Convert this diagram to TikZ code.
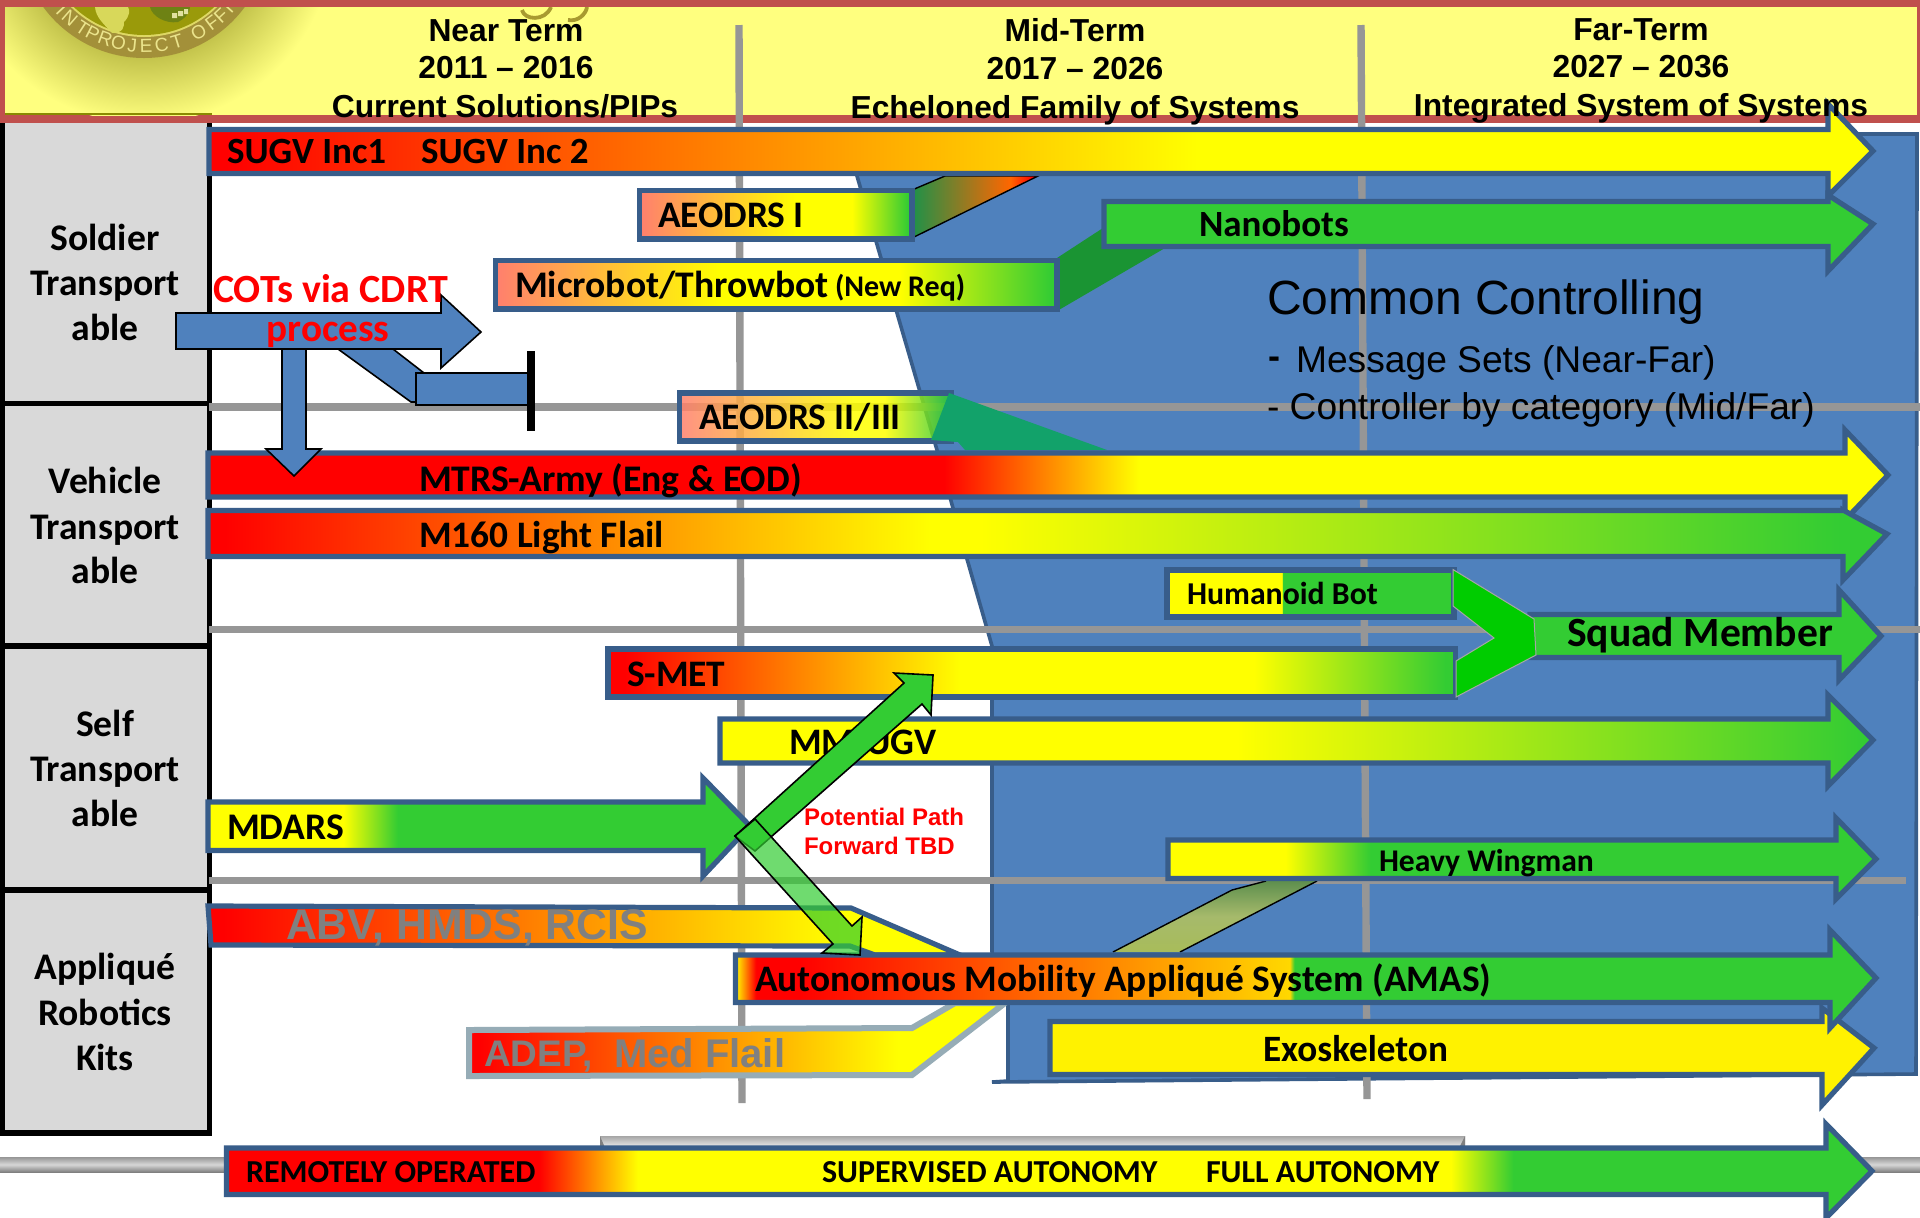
\documentclass[tikz,border=0pt]{standalone}
\usepackage{fontspec}
\setmainfont{Carlito}
\newfontfamily\arf{Liberation Sans}
\definecolor{barline}{HTML}{385D8A}
\definecolor{bgblue}{HTML}{4F81BD}
\definecolor{bargreen}{HTML}{33CC33}
\definecolor{salmon}{HTML}{FF7F6E}
\definecolor{gridg}{HTML}{969696}
\definecolor{panelg}{HTML}{D9D9D9}
\definecolor{hdrred}{HTML}{C0504D}
\definecolor{hdryel}{HTML}{FFFF7F}
\definecolor{glowc}{HTML}{C4C44C}
\definecolor{orangeS}{HTML}{FF9000}
\definecolor{amsy}{HTML}{FFD800}
\definecolor{extgreen}{HTML}{1E9148}
\definecolor{extorange}{HTML}{FF6600}
\definecolor{silverd}{HTML}{A6A6A6}
\pgfdeclarehorizontalshading{sSUGV}{100bp}{color(0bp)=(red);color(25.5bp)=(red);color(54.7bp)=(yellow);color(100bp)=(yellow)}
\pgfdeclarehorizontalshading{sAEOa}{100bp}{color(0bp)=(salmon);color(25bp)=(salmon);color(53.8bp)=(yellow);color(64bp)=(yellow);color(74.3bp)=(bargreen);color(100bp)=(bargreen)}
\pgfdeclarehorizontalshading{sMicro}{100bp}{color(0bp)=(salmon);color(25bp)=(salmon);color(45.1bp)=(yellow);color(61bp)=(yellow);color(74.5bp)=(bargreen);color(100bp)=(bargreen)}
\pgfdeclarehorizontalshading{sAEOb}{100bp}{color(0bp)=(salmon);color(25bp)=(salmon);color(57bp)=(yellow);color(62.8bp)=(yellow);color(74bp)=(bargreen);color(100bp)=(bargreen)}
\pgfdeclarehorizontalshading{sMTRS}{100bp}{color(0bp)=(red);color(46.9bp)=(red);color(52.7bp)=(yellow);color(100bp)=(yellow)}
\pgfdeclarehorizontalshading{sM160}{100bp}{color(0bp)=(red);color(25.5bp)=(red);color(46.5bp)=(yellow);color(48bp)=(yellow);color(73.6bp)=(bargreen);color(100bp)=(bargreen)}
\pgfdeclarehorizontalshading{sSMET}{100bp}{color(0bp)=(red);color(26bp)=(red);color(45.8bp)=(yellow);color(63.1bp)=(yellow);color(74.4bp)=(bargreen);color(100bp)=(bargreen)}
\pgfdeclarehorizontalshading{sMM}{100bp}{color(0bp)=(yellow);color(47.4bp)=(yellow);color(74.6bp)=(bargreen);color(100bp)=(bargreen)}
\pgfdeclarehorizontalshading{sMDARS}{100bp}{color(0bp)=(yellow);color(37.5bp)=(yellow);color(42.5bp)=(bargreen);color(100bp)=(bargreen)}
\pgfdeclarehorizontalshading{sABV}{100bp}{color(0bp)=(red);color(26bp)=(red);color(67bp)=(yellow);color(100bp)=(yellow)}
\pgfdeclarehorizontalshading{sAMAS}{100bp}{color(0bp)=(yellow);color(25bp)=(yellow);color(25.4bp)=(orangeS);color(25.9bp)=(red);color(27.8bp)=(red);color(49.3bp)=(amsy);color(49.5bp)=(bargreen);color(100bp)=(bargreen)}
\pgfdeclarehorizontalshading{sADEP}{100bp}{color(0bp)=(red);color(26bp)=(red);color(65bp)=(yellow);color(100bp)=(yellow)}
\pgfdeclarehorizontalshading{sHeavy}{100bp}{color(0bp)=(yellow);color(33.3bp)=(yellow);color(39.3bp)=(bargreen);color(100bp)=(bargreen)}
\pgfdeclarehorizontalshading{sHuman}{100bp}{color(0bp)=(yellow);color(45bp)=(yellow);color(45.2bp)=(bargreen);color(100bp)=(bargreen)}
\pgfdeclarehorizontalshading{sAuto}{100bp}{color(0bp)=(red);color(34.5bp)=(red);color(37.5bp)=(yellow);color(62.2bp)=(yellow);color(64.1bp)=(bargreen);color(100bp)=(bargreen)}
\pgfdeclarehorizontalshading{sExtA}{100bp}{color(0bp)=(extgreen);color(25bp)=(extgreen);color(64bp)=(extorange);color(73bp)=(red);color(100bp)=(red)}
\pgfdeclareradialshading{sGlow}{\pgfpoint{0bp}{0bp}}{color(0bp)=(glowc);color(16.4bp)=(glowc);color(25bp)=(hdryel);color(100bp)=(hdryel)}
\newcommand\cb[1]{\fontsize{#1}{#1}\selectfont\bfseries}
\newcommand\ab[1]{\arf\fontsize{#1}{#1}\selectfont\bfseries}
\newcommand\ar[1]{\arf\fontsize{#1}{#1}\selectfont}
% text: [opts]{name}{x}{y}{size in pt}{font command}{text}
\newcommand\T[7][]{\node[inner sep=0pt,outer sep=0pt,anchor=base west,font=#6{#5},yshift={-0.33*#5 pt},#1] (#2) at (#3,#4) {#7};}
% arrow bar: [opts]{x0}{shaft end}{tip x}{ytop}{ybot}{head top}{head bot}{tip y}
\newcommand\HA[9][]{\path[bar,#1] (#2,#5) -- (#3,#5) -- (#3,#7) -- (#4,#9) -- (#3,#8) -- (#3,#6) -- (#2,#6) -- cycle;}
\tikzset{
  bar/.style={draw=barline,line width=2.6pt,miter limit=10,line join=miter},
  gridl/.style={draw=gridg,line width=3.7pt},
  edgeb/.style={draw=black,line width=0.7pt},
  panel/.style={fill=panelg,draw=black,line width=2.6pt},
  procb/.style={fill=bgblue,draw=black,line width=0.8pt},
  silver/.style={top color=gridg,bottom color=gray,middle color=silverd!45!white,draw=none}
}
\begin{document}
\begin{tikzpicture}[x=0.5pt,y=-0.5pt]
\useasboundingbox (0,0) rectangle (1920,1217);
\path[clip] (0,0) rectangle (1920,1217);
\fill[white] (0,0) rectangle (1920,1217);
% blue field
\path[fill=bgblue,draw=barline,line width=1.8pt] (845,134) -- (857,176) -- (937,450) -- (967,559) -- (992,646) -- (992,952) -- (1008,1003) -- (1008,1081) -- (992,1082) -- (1916,1074) -- (1917,134) -- cycle;
% left panels
\path[panel] (2.5,118) rectangle (209.5,403.5);
\path[panel] (2.5,403.5) rectangle (209.5,646);
\path[panel] (2.5,646) rectangle (209.5,890);
\path[panel] (2.5,890) rectangle (209.5,1133);
% header
\fill[hdrred] (0,0) rectangle (1920,123);
\fill[hdryel] (5,7) rectangle (1917,115);
\begin{scope}
\clip (5,7) rectangle (1917,115);
\path[shading=sGlow] (144,-67) circle[radius=190];
\fill[color={rgb,255:red,163;green,144;blue,57}] (144,-67) circle[radius=125];
\fill[color={rgb,255:red,222;green,216;blue,100}] (144,-67) circle[radius=104];
\fill[color={rgb,255:red,154;green,154;blue,10}] (144,-67) circle[radius=102];
\fill[color={rgb,255:red,216;green,216;blue,90}] (95,7) .. controls (96,18) and (104,24) .. (112,33) .. controls (124,33) and (124,26) .. (124,22) .. controls (130,16) and (130,10) .. (128,7) -- cycle;
\fill[color={rgb,255:red,110;green,130;blue,20}] (150,7) .. controls (152,16) and (165,24) .. (178,22) .. controls (186,18) and (190,12) .. (190,7) -- cycle;
\fill[color={rgb,255:red,225;green,225;blue,160}] (172,13) rectangle (177,18) (178,11) rectangle (183,16) (184,9) rectangle (188,14);
\foreach \ang/\ch/\k in {137/I/a,131/N/b,123/T/c,117/P/d,110/R/e,103/O/f,96/J/g,89/E/h,81/C/i,73/T/j,61/O/k,53/F/l,47/F/m,42/I/n}{
  \pgfmathsetmacro\lx{144+113*cos(\ang)}
  \pgfmathsetmacro\ly{-67+113*sin(\ang)}
  \pgfmathsetmacro\lr{90-\ang}
  \node[inner sep=0pt,rotate=\lr,font=\ar{9.5},text={rgb,255:red,235;green,228;blue,140}] (logo\k) at (\lx,\ly) {\ch};
}
\draw[color={rgb,255:red,168;green,154;blue,48},line width=1.9pt] (522,10) .. controls (524,20) and (545,22) .. (551,7);
\draw[color={rgb,255:red,168;green,154;blue,48},line width=1.9pt] (568,20) .. controls (578,22) and (586,14) .. (587,7);
\end{scope}
\fill[color={rgb,255:red,138;green,138;blue,0}] (5,112.5) rectangle (212,115);
% grid
\path[gridl] (739,25) -- (742,1103);
\path[gridl] (1361,25) -- (1367,1099);
\path[gridl] (209,407) -- (1920,407);
\path[gridl] (209,629.5) -- (1920,629.5);
\path[gridl] (209,880.5) -- (1906,880.5);
% silver bars
\path[silver] (0,1157) rectangle (230,1172);
\path[silver] (1860,1157) rectangle (1920,1172);
\path[top color=silverd,bottom color=white,draw=none] (600,1136) rectangle (1465,1150);
\fill[color=gray] (600,1136) -- (606,1150) -- (600,1150) -- cycle (1465,1136) -- (1458,1150) -- (1465,1150) -- cycle;
% extrusions
\path[shading=sExtA,edgeb] (912,190) -- (945,176) -- (1038,176) -- (912,238) -- cycle;
\fill[color={rgb,255:red,26;green,148;blue,51}] (1057,258) -- (1103,228) -- (1165,248) -- (1057,311) -- cycle;
\path[top color={rgb,255:red,94;green,143;blue,78},bottom color={rgb,255:red,168;green,188;blue,90},middle color={rgb,255:red,166;green,186;blue,107}] (1113,952) -- (1232,890) -- (1266,881) -- (1317,881) -- (1180,952) -- cycle;
\draw[edgeb] (1113,952) -- (1232,890) -- (1266,881);
\draw[edgeb] (1317,881) -- (1180,952);
% bars
\HA[shading=sSUGV]{209}{1828}{1873}{129.5}{173.5}{104}{196}{151}
\T{tSugvA}{227}{151}{18.5}{\cb}{SUGV Inc1}
\T{tSugvB}{421}{151}{18.5}{\cb}{SUGV Inc 2}
\path[bar,shading=sAEOa] (639.5,190.5) rectangle (912,239);
\T{tAeoA}{658}{215}{18.7}{\cb}{AEODRS I}
\path[bar,shading=sMicro] (495.5,260.5) rectangle (1057,309);
\T{tMicro}{515}{285}{18.8}{\cb}{Microbot/Throwbot}
\T{tNewReq}{835}{287}{15}{\cb}{(New Req)}
\HA[fill=bargreen]{1104}{1828}{1873}{201.5}{246.5}{195}{271}{224}
\T{tNano}{1199}{224}{18.5}{\cb}{Nanobots}
\path[bar,shading=sAEOb,fill opacity=.85] (679.5,393) rectangle (951,441);
\fill[color={rgb,255:red,18;green,162;blue,106}] (949,393) -- (1107,450) -- (965,450) -- (958,442) -- (931,440) -- cycle;
\T{tAeoB}{699}{417}{18.7}{\cb}{AEODRS II/III}
\HA[shading=sMTRS]{208}{1845}{1888}{453}{497}{430}{520}{475}
\T{tMtrs}{419}{479}{18.8}{\cb}{MTRS-Army (Eng \& EOD)}
\HA[shading=sM160]{208}{1843}{1887}{510.5}{556.5}{510}{580}{534}
\T{tM}{419}{535}{18.7}{\cb}{M160 Light Flail}
\HA[fill=bargreen]{1530}{1839}{1881}{614.5}{657.5}{590}{680}{636}
\T{tSquad}{1567}{633}{20.8}{\cb}{Squad Member}
\path[bar,shading=sHuman] (1167,570) rectangle (1454,617);
\T{tHuman}{1187}{594}{15.9}{\cb}{Humanoid Bot}
\path[bar,shading=sSMET] (608,649) rectangle (1455.5,697);
\T{tSmet}{627}{674}{18.7}{\cb}{S-MET}
\path[fill={rgb,255:red,0;green,204;blue,0},draw=silverd,line width=0.5pt] (1453,569.5) -- (1534,619) -- (1536,655) -- (1456,697) -- (1456,661) -- (1494,638) -- (1453,606) -- cycle;
\HA[shading=sMM]{720}{1828}{1873}{719}{763}{695}{786}{740}
\T{tMM}{789}{742}{18.7}{\cb}{MM\hspace{6pt}UGV}
\HA[shading=sMDARS]{208}{703}{750}{802}{850.5}{778}{876}{826}
\T{tMdars}{227}{827}{18.8}{\cb}{MDARS}
\HA[shading=sHeavy]{1168}{1836}{1876}{840}{878.5}{818}{899}{859}
\T{tHeavy}{1379}{861}{15.8}{\cb}{Heavy Wingman}
\path[bar,shading=sABV] (208,906) -- (851,908) -- (960,955) -- (875,955) -- (850,946) -- (211,945) -- cycle;
\T{tAbv}{286}{925}{21.4}{\ab}{\textcolor{gray}{ABV, HMDS, RCIS}}
\path[shading=sADEP,draw={rgb,255:red,150;green,172;blue,182},line width=3pt,line join=miter] (469,1030) -- (912,1028) -- (955,1003) -- (1005,1003) -- (912,1075) -- (469,1076) -- cycle;
\T{tAdep}{484}{1054}{18.5}{\ab}{\textcolor{gray}{ADEP,}}
\T{tMed}{614}{1054}{20}{\ab}{\textcolor{gray}{Med Flail}}
\HA[fill=yellow]{1050}{1822}{1874}{1021.5}{1074.5}{1008}{1105}{1048}
\T{tExo}{1263}{1049}{18.6}{\cb}{Exoskeleton}
\HA[shading=sAMAS]{735.5}{1830}{1876}{955}{1002.5}{930}{1028}{978}
\T{tAmas}{755}{979}{18.7}{\cb}{Autonomous Mobility Appliqué System (AMAS)}
\HA[shading=sAuto]{226.5}{1826}{1872}{1148}{1194.5}{1124}{1218}{1171}
\T{tRemote}{246}{1172}{16}{\cb}{REMOTELY OPERATED}
\T{tSuper}{822}{1172}{16}{\cb}{SUPERVISED AUTONOMY}
\T{tFull}{1206}{1172}{16}{\cb}{FULL AUTONOMY}
% process arrows
\path[procb] (282,349) -- (282,449) -- (266,449) -- (294,476) -- (321,449) -- (306,449) -- (306,349) -- cycle;
\path[procb] (338,349) -- (393,349) -- (424,373) -- (416,373) -- (416,402) -- (411,402) -- cycle;
\path[procb] (416,373) rectangle (528,405);
\fill[black] (527,351) rectangle (535,431);
\path[procb] (176,313) -- (441,313) -- (441,295) -- (481,332) -- (441,368) -- (441,349) -- (176,349) -- cycle;
\T[text=red]{tCots}{213}{289}{20}{\cb}{COTs via CDRT}
\T[text=red,anchor=base]{tProc}{328}{329}{19.6}{\cb}{process}
% potential path
\path[fill=bargreen,draw=black,line width=0.8pt] (735,836) -- (904,683) -- (894,673) -- (933,675) -- (931,715) -- (922,704) -- (755,851) -- cycle;
\path[fill=bargreen,fill opacity=.7,draw=black,line width=0.8pt] (755,819) -- (852,926) -- (862,917) -- (860,955) -- (822,953) -- (833,944) -- (735,836) -- cycle;
\T[text=red]{tPotA}{804}{818}{12}{\ab}{Potential Path}
\T[text=red]{tPotB}{804}{847}{12}{\ab}{Forward TBD}
% common controlling
\T{tCom}{1267}{299}{24}{\ar}{Common Controlling}
\T{tDash}{1268}{357}{18}{\ab}{-}
\T{tMsg}{1296}{360}{18.6}{\ar}{Message Sets (Near-Far)}
\T{tCtl}{1267}{407}{18.6}{\ar}{- Controller by category (Mid/Far)}
% panel labels
\foreach \yy/\tt/\kk in {238/Soldier/a,283/Transport/b,328/able/c,481/Vehicle/d,527/Transport/e,571/able/f,724/Self/g,769/Transport/h,814/able/i,967/Appliqué/j,1013/Robotics/k,1058/Kits/l}{
  \T[anchor=base]{pan\kk}{105}{\yy}{18.8}{\cb}{\tt}
}
% header labels
\T[anchor=base]{hA}{506}{31}{15.9}{\ab}{Near Term}
\T[anchor=base]{hB}{506}{68}{15.9}{\ab}{2011 – 2016}
\T[anchor=base]{hC}{505}{107}{15.9}{\ab}{Current Solutions/PIPs}
\T[anchor=base]{hD}{1075}{31}{15.9}{\ab}{Mid-Term}
\T[anchor=base]{hE}{1075}{69}{15.9}{\ab}{2017 – 2026}
\T[anchor=base]{hF}{1075}{108}{15.9}{\ab}{Echeloned Family of Systems}
\T[anchor=base]{hG}{1641}{30}{15.9}{\ab}{Far-Term}
\T[anchor=base]{hH}{1641}{67}{15.9}{\ab}{2027 – 2036}
\T[anchor=base]{hI}{1641}{106}{15.9}{\ab}{Integrated System of Systems}
\end{tikzpicture}
\end{document}
